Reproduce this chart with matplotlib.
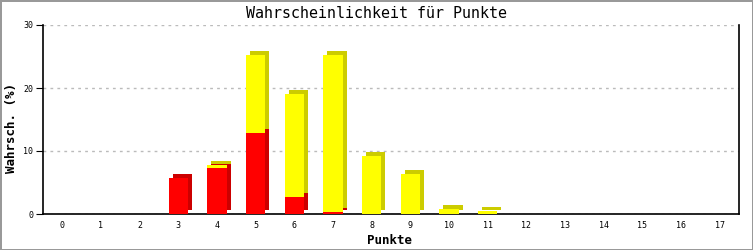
import matplotlib.pyplot as plt
import matplotlib.transforms as mtransforms
import numpy as np

plt.rcParams["font.family"] = ["DejaVu Sans Mono", "DejaVu Sans"]

punkte = list(range(18))
rot = [0, 0, 0, 5.7, 7.3, 12.9, 2.7, 0.3, 0, 0, 0, 0, 0, 0, 0, 0, 0, 0]
gelb = [0, 0, 0, 0, 0.5, 12.3, 16.3, 24.9, 9.2, 6.35, 0.8, 0.5, 0, 0, 0, 0, 0, 0]

fig = plt.figure(figsize=(7.53, 2.5), dpi=100)
fig.patch.set_edgecolor("#999999")
fig.patch.set_linewidth(2)
ax = fig.add_axes([43 / 753, 36 / 250, 696 / 753, 189 / 250])

x = np.array(punkte)
r = np.array(rot)
g = np.array(gelb)
w = 0.5

# 3D-Schatten: gleiche Balken, um 4 px nach rechts/oben verschoben
shift = mtransforms.offset_copy(ax.transData, fig=fig, x=4, y=4, units="dots")
mr = r > 0
mg = g > 0
ax.bar(x[mr], r[mr], width=w, color="#cc0000", transform=shift, zorder=2)
ax.bar(x[mg], g[mg], width=w, bottom=r[mg], color="#cccc00", transform=shift, zorder=2)
ax.bar(x[mr], r[mr], width=w, color="#ff0000", zorder=3)
ax.bar(x[mg], g[mg], width=w, bottom=r[mg], color="#ffff00", zorder=3)

ax.set_xlim(-0.5, 17.5)
ax.set_ylim(0, 30)
ax.set_xticks(punkte)
ax.set_yticks([0, 10, 20, 30])
ax.tick_params(axis="x", length=0, labelsize=6, pad=5)
ax.tick_params(axis="y", length=5, labelsize=6, pad=2)
ax.yaxis.grid(True, linestyle=(0, (2, 3)), color="#bbbbbb", linewidth=1)
ax.set_axisbelow(True)
ax.spines["top"].set_visible(False)
for s in ["left", "bottom", "right"]:
    ax.spines[s].set_linewidth(1.2)

fig.text(0.5, 1 - 14 / 250, "Wahrscheinlichkeit für Punkte", fontsize=10.8,
         ha="center", va="center")
fig.text(12 / 753, 1 - 128 / 250, "Wahrsch. (%)", fontsize=9, fontweight="bold",
         rotation=90, ha="center", va="center")
fig.text(390 / 753, 1 - 240 / 250, "Punkte", fontsize=9, fontweight="bold",
         ha="center", va="center")

plt.savefig("out.png", dpi=100)
